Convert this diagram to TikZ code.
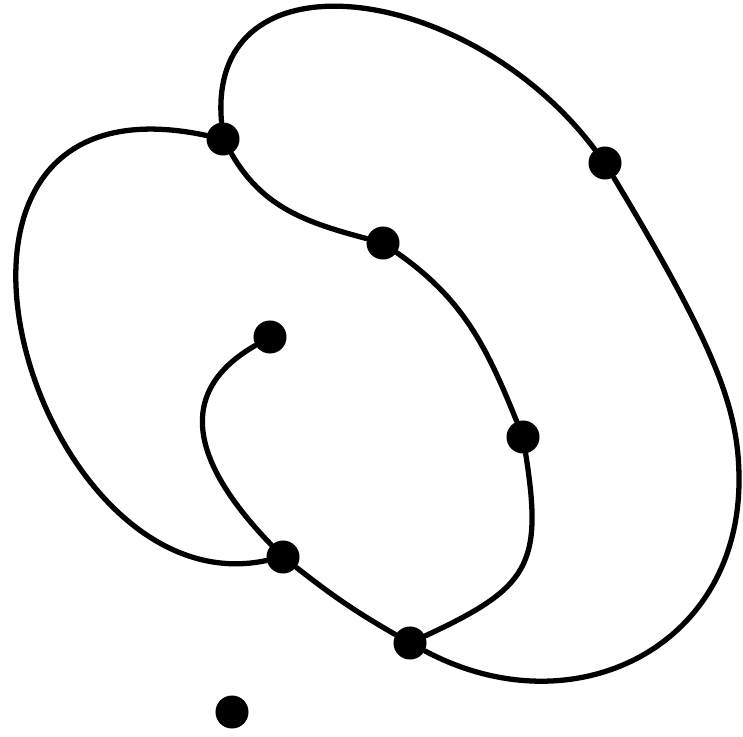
\documentclass[tikz,border=0pt]{standalone}
\usepackage{tikz}
\tikzset{
  vertex/.style={circle, fill=black, inner sep=0pt, minimum size=0.33cm},
  link/.style={line width=1.5pt, line cap=round},
}

\begin{document}
\begin{tikzpicture}[x=0.01cm, y=0.01cm]
  \useasboundingbox (0,0) rectangle (743,-737);
  \node[vertex] (v1) at (223,-139) {};
  \node[vertex] (v2) at (605,-163) {};
  \node[vertex] (v3) at (383,-243) {};
  \node[vertex] (v4) at (270,-337) {};
  \node[vertex] (v5) at (523,-437) {};
  \node[vertex] (v6) at (283,-557) {};
  \node[vertex] (v7) at (410,-643) {};
  \node[vertex] (v8) at (232,-712) {};
  \coordinate (rim) at (739,-480);
  \draw[link] (v1) to[out=95, in=127, out distance=1.75cm, in distance=2.1cm] (v2);
  \draw[link] (v2) to[out=-59, in=90, out distance=2cm, in distance=0.7cm] (rim)
    to[out=-90, in=-28, looseness=1.2] (v7);
  \draw[link] (v1) to[out=168, in=-168, out distance=3.4cm, in distance=2.4cm] (v6);
  \draw[link] (v1) to[out=-60, in=165] (v3);
  \draw[link] (v3) to[out=-35, in=112] (v5);
  \draw[link] (v5) to[out=-81, in=25, looseness=1.4] (v7);
  \draw[link] (v4) to[out=-150, in=134, looseness=1.3] (v6);
  \draw[link] (v6) to[out=-38, in=150] (v7);
\end{tikzpicture}
\end{document}
